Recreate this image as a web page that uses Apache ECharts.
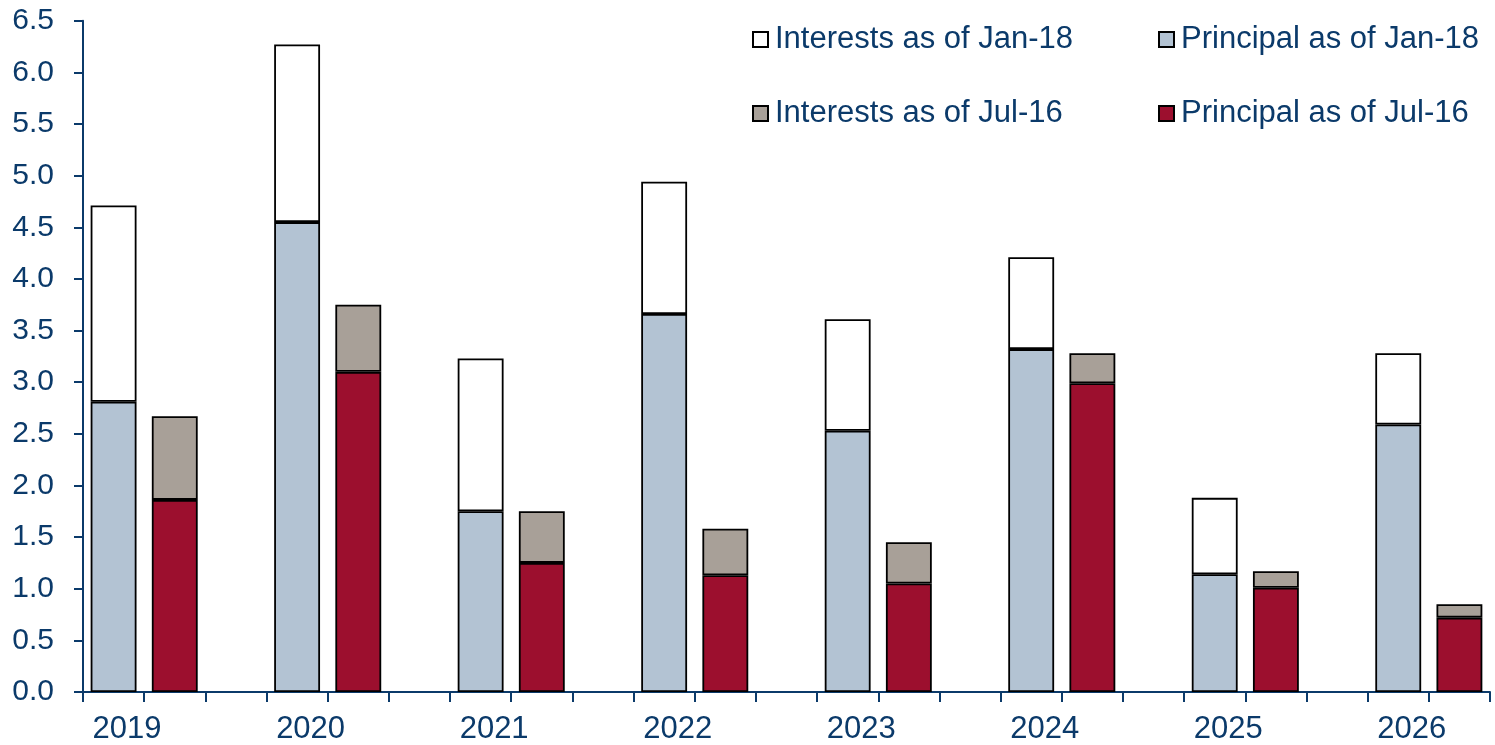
<!DOCTYPE html>
<html>
<head>
<meta charset="utf-8">
<script src="https://cdn.jsdelivr.net/npm/echarts@6/dist/echarts.min.js"></script>
<style>
html,body{margin:0;padding:0;background:#fff;}
#chart{width:1495px;height:745px;}
</style>
</head>
<body>
<div id="chart"></div>
<script>
var years = ['2019','2020','2021','2022','2023','2024','2025','2026'];
var principalJan18 = [2.81, 4.55, 1.75, 3.66, 2.53, 3.32, 1.14, 2.59];
var interestsJan18 = [1.90, 1.72, 1.48, 1.28, 1.08, 0.89, 0.74, 0.69];
var principalJul16 = [1.86, 3.10, 1.25, 1.13, 1.05, 2.99, 1.01, 0.72];
var interestsJul16 = [0.81, 0.65, 0.50, 0.45, 0.40, 0.29, 0.16, 0.13];
var yTicks = [0, 6.5, 0.5]; // min, max, interval

var TEXT = '#0B3A6A';
var FONT = '"Liberation Sans", Arial, sans-serif';

// build 23 bands: Jan-18 bar, Jul-16 bar, gap (no gap after last year)
var cats = [], sJ = [], iJ = [], sP = [], iP = [];
years.forEach(function (y, k) {
  cats.push(y + '|J'); sJ.push(principalJan18[k]); iJ.push(interestsJan18[k]); sP.push('-'); iP.push('-');
  cats.push(y + '|P'); sJ.push('-'); iJ.push('-'); sP.push(principalJul16[k]); iP.push(interestsJul16[k]);
  if (k < years.length - 1) { cats.push(y + '|G'); sJ.push('-'); iJ.push('-'); sP.push('-'); iP.push('-'); }
});

var border = { borderColor: '#000', borderWidth: 1.8 };
function bar(name, data, color) {
  return {
    name: name, type: 'bar', stack: 'all', data: data, barWidth: '75%',
    itemStyle: Object.assign({ color: color }, border)
  };
}
function legendAt(name, left, top) {
  return {
    data: [name], left: left, top: top, itemWidth: 15, itemHeight: 15, itemGap: 0,
    icon: 'rect',
    itemStyle: { borderColor: '#000', borderWidth: 2 },
    textStyle: { color: TEXT, fontSize: 31, fontFamily: FONT, padding: [0, 0, 0, 2] }
  };
}

var chart = echarts.init(document.getElementById('chart'));
chart.setOption({
  animation: false,
  backgroundColor: '#fff',
  grid: { left: 83, right: 5, top: 20.7, bottom: 52 },
  legend: [
    legendAt('Interests as of Jan-18', 747, 19),
    legendAt('Principal as of Jan-18', 1153, 19),
    legendAt('Interests as of Jul-16', 747, 93),
    legendAt('Principal as of Jul-16', 1153, 93)
  ],
  xAxis: {
    type: 'category', data: cats, boundaryGap: true,
    axisLine: { show: true, lineStyle: { color: TEXT, width: 2 } },
    axisTick: { show: true, interval: 0, length: 10, alignWithLabel: false, lineStyle: { color: TEXT, width: 2 } },
    axisLabel: {
      interval: 0,
      formatter: function (v, idx) { return idx % 3 === 0 ? v.split('|')[0] : ''; },
      color: TEXT, fontSize: 31, fontFamily: FONT, margin: 22,
      padding: [0, 0, 0, 27]
    },
    splitLine: { show: false }
  },
  yAxis: {
    type: 'value', min: yTicks[0], max: yTicks[1], interval: yTicks[2],
    axisLine: { show: true, lineStyle: { color: TEXT, width: 2 } },
    axisTick: { show: true, length: 9, lineStyle: { color: TEXT, width: 2 } },
    axisLabel: {
      color: TEXT, fontSize: 30, fontFamily: FONT, margin: 29,
      formatter: function (v) { return v.toFixed(1); }
    },
    splitLine: { show: false }
  },
  series: [
    bar('Principal as of Jan-18', sJ, '#B3C3D3'),
    bar('Interests as of Jan-18', iJ, '#FFFFFF'),
    bar('Principal as of Jul-16', sP, '#9C0F2E'),
    bar('Interests as of Jul-16', iP, '#A8A098')
  ]
});
</script>
</body>
</html>
